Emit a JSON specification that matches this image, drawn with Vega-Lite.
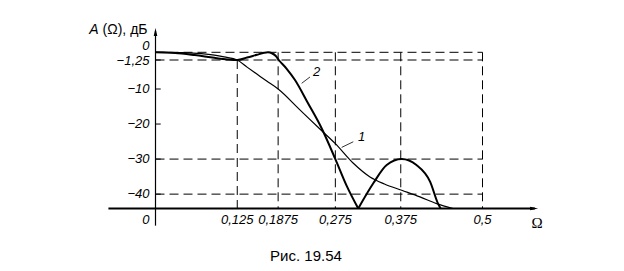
{
  "$schema": "https://vega.github.io/schema/vega-lite/v6.json",
  "width": 624,
  "height": 271,
  "autosize": {"type": "none"},
  "padding": 0,
  "background": "white",
  "config": {"view": {"stroke": null}, "text": {"font": "Liberation Sans", "fill": "black"}},
  "datasets": {
    "grid": [
      {"x": 0, "x2": 0.5, "y": 0, "y2": 0},
      {"x": 0, "x2": 0.5, "y": -1.25, "y2": -1.25},
      {"x": 0, "x2": 0.5, "y": -30, "y2": -30},
      {"x": 0, "x2": 0.5, "y": -40, "y2": -40},
      {"x": 0.125, "x2": 0.125, "y": -1.25, "y2": -44.1},
      {"x": 0.1875, "x2": 0.1875, "y": 0, "y2": -44.1},
      {"x": 0.275, "x2": 0.275, "y": 0, "y2": -44.1},
      {"x": 0.375, "x2": 0.375, "y": 0, "y2": -44.1},
      {"x": 0.5, "x2": 0.5, "y": 0, "y2": -44.1}
    ],
    "xaxis": [{"x": -0.072, "x2": 0.58, "y": -44.1, "y2": -44.1}],
    "yaxis": [{"x": 0, "x2": 0, "y": -49, "y2": 3.5}],
    "ticks": [
      {"x": 0, "x2": 0.008, "y": -1.25},
      {"x": 0, "x2": 0.008, "y": -10},
      {"x": 0, "x2": 0.008, "y": -20},
      {"x": 0, "x2": 0.008, "y": -30},
      {"x": 0, "x2": 0.008, "y": -40}
    ],
    "arrowx": [{"x": 0.585, "y": -44.1}],
    "arrowy": [{"x": 0, "y": 4}],
    "c1": [
      {"x": 0, "y": 0},
      {"x": 0.04, "y": -0.05},
      {"x": 0.07, "y": -0.2},
      {"x": 0.09, "y": -0.45},
      {"x": 0.105, "y": -0.75},
      {"x": 0.125, "y": -1.25},
      {"x": 0.14, "y": -3.4},
      {"x": 0.155, "y": -5.5},
      {"x": 0.17, "y": -7.6},
      {"x": 0.1875, "y": -10},
      {"x": 0.22, "y": -15.8},
      {"x": 0.253, "y": -21.7},
      {"x": 0.275, "y": -25.6},
      {"x": 0.3025, "y": -31.2},
      {"x": 0.328, "y": -35.1},
      {"x": 0.35, "y": -37.1},
      {"x": 0.3765, "y": -38.9},
      {"x": 0.4044, "y": -40.8},
      {"x": 0.43, "y": -42.7},
      {"x": 0.455, "y": -44.1}
    ],
    "c2": [
      {"seg": "a", "x": 0, "y": 0},
      {"seg": "a", "x": 0.03, "y": -0.1},
      {"seg": "a", "x": 0.06, "y": -0.45},
      {"seg": "a", "x": 0.09, "y": -0.9},
      {"seg": "a", "x": 0.11, "y": -1.15},
      {"seg": "a", "x": 0.125, "y": -1.25},
      {"seg": "a", "x": 0.14, "y": -0.85},
      {"seg": "a", "x": 0.155, "y": -0.4},
      {"seg": "a", "x": 0.166, "y": -0.08},
      {"seg": "a", "x": 0.172, "y": 0},
      {"seg": "a", "x": 0.178, "y": -0.15},
      {"seg": "a", "x": 0.184, "y": -0.6},
      {"seg": "a", "x": 0.1885, "y": -1.25},
      {"seg": "a", "x": 0.2, "y": -3.75},
      {"seg": "a", "x": 0.2133, "y": -7.3},
      {"seg": "a", "x": 0.233, "y": -14},
      {"seg": "a", "x": 0.254, "y": -21.2},
      {"seg": "a", "x": 0.275, "y": -30},
      {"seg": "a", "x": 0.292, "y": -37.5},
      {"seg": "a", "x": 0.31, "y": -44.1},
      {"seg": "b", "x": 0.31, "y": -44.1},
      {"seg": "b", "x": 0.333, "y": -36.9},
      {"seg": "b", "x": 0.3535, "y": -31.7},
      {"seg": "b", "x": 0.3765, "y": -30},
      {"seg": "b", "x": 0.399, "y": -31.7},
      {"seg": "b", "x": 0.42, "y": -36.5},
      {"seg": "b", "x": 0.432, "y": -42.7},
      {"seg": "b", "x": 0.436, "y": -44.1}
    ],
    "ylabels": [
      {"x": 0, "y": 1.0, "t": "0"},
      {"x": 0, "y": -1.45, "t": "−1,25"},
      {"x": 0, "y": -10, "t": "−10"},
      {"x": 0, "y": -20, "t": "−20"},
      {"x": 0, "y": -30, "t": "−30"},
      {"x": 0, "y": -40, "t": "−40"},
      {"x": 0, "y": -47.4, "t": "0"}
    ],
    "xlabels": [
      {"x": 0.125, "y": -47.4, "t": "0,125"},
      {"x": 0.1875, "y": -47.4, "t": "0,1875"},
      {"x": 0.275, "y": -47.4, "t": "0,275"},
      {"x": 0.375, "y": -47.4, "t": "0,375"},
      {"x": 0.5, "y": -47.4, "t": "0,5"}
    ],
    "curvelabels": [
      {"x": 0.3153, "y": -23.6, "t": "1"},
      {"x": 0.2465, "y": -4.78, "t": "2"}
    ],
    "leaders": [
      {"x": 0.3024, "x2": 0.2847, "y": -25.06, "y2": -26.66},
      {"x": 0.2362, "x2": 0.2235, "y": -6.38, "y2": -8.28}
    ],
    "ylab": [{"x": 0, "y": 3.67}],
    "omega": [{"x": 0.5834, "y": -48.2, "t": "Ω"}],
    "caption": [{"x": 0.2301, "y": -57.7, "t": "Рис. 19.54"}]
  },
  "encoding": {
    "x": {"field": "x", "type": "quantitative", "axis": null,
          "scale": {"domain": [0, 0.5], "range": [155.5, 482.5], "nice": false, "zero": false}},
    "y": {"field": "y", "type": "quantitative", "axis": null,
          "scale": {"domain": [-49, -44.1, -10, -1.25, 0, 4], "range": [225.65, 208.5, 89, 60, 52.3, 28], "nice": false, "zero": false}}
  },
  "layer": [
    {"data": {"name": "grid"}, "mark": {"type": "rule", "color": "black", "strokeWidth": 1, "strokeDash": [9, 5]},
     "encoding": {"x2": {"field": "x2"}, "y2": {"field": "y2"}}},
    {"data": {"name": "ticks"}, "mark": {"type": "rule", "color": "black", "strokeWidth": 1},
     "encoding": {"x2": {"field": "x2"}}},
    {"data": {"name": "xaxis"}, "mark": {"type": "rule", "color": "black", "strokeWidth": 2},
     "encoding": {"x2": {"field": "x2"}, "y2": {"field": "y2"}}},
    {"data": {"name": "yaxis"}, "mark": {"type": "rule", "color": "black", "strokeWidth": 1.2},
     "encoding": {"x2": {"field": "x2"}, "y2": {"field": "y2"}}},
    {"data": {"name": "arrowx"}, "mark": {"type": "point", "shape": "M0,0L-2,-0.45L-2,0.45Z", "size": 64, "filled": true, "color": "black", "opacity": 1}},
    {"data": {"name": "arrowy"}, "mark": {"type": "point", "shape": "M0,0L0.45,2L-0.45,2Z", "size": 64, "filled": true, "color": "black", "opacity": 1}},
    {"data": {"name": "c1"}, "mark": {"type": "line", "color": "black", "strokeWidth": 1.2, "interpolate": "monotone"}},
    {"data": {"name": "c2"}, "mark": {"type": "line", "color": "black", "strokeWidth": 2, "interpolate": "monotone"},
     "encoding": {"detail": {"field": "seg", "type": "nominal"}}},
    {"data": {"name": "leaders"}, "mark": {"type": "rule", "color": "black", "strokeWidth": 0.8},
     "encoding": {"x2": {"field": "x2"}, "y2": {"field": "y2"}}},
    {"data": {"name": "ylabels"}, "mark": {"type": "text", "align": "right", "baseline": "middle", "dx": -6, "fontSize": 13, "fontStyle": "italic"},
     "encoding": {"text": {"field": "t"}}},
    {"data": {"name": "xlabels"}, "mark": {"type": "text", "align": "center", "baseline": "middle", "fontSize": 13, "fontStyle": "italic"},
     "encoding": {"text": {"field": "t"}}},
    {"data": {"name": "curvelabels"}, "mark": {"type": "text", "align": "center", "baseline": "middle", "fontSize": 13, "fontStyle": "italic"},
     "encoding": {"text": {"field": "t"}}},
    {"data": {"name": "ylab"}, "mark": {"type": "text", "align": "right", "baseline": "middle", "dx": -8, "fontSize": 14, "text": "(Ω), дБ"}},
    {"data": {"name": "ylab"}, "mark": {"type": "text", "align": "right", "baseline": "middle", "dx": -57, "fontSize": 14, "fontStyle": "italic", "text": "A"}},
    {"data": {"name": "omega"}, "mark": {"type": "text", "align": "center", "baseline": "middle", "fontSize": 15, "font": "Liberation Serif"},
     "encoding": {"text": {"field": "t"}}},
    {"data": {"name": "caption"}, "mark": {"type": "text", "align": "center", "baseline": "middle", "fontSize": 15},
     "encoding": {"text": {"field": "t"}}}
  ]
}
